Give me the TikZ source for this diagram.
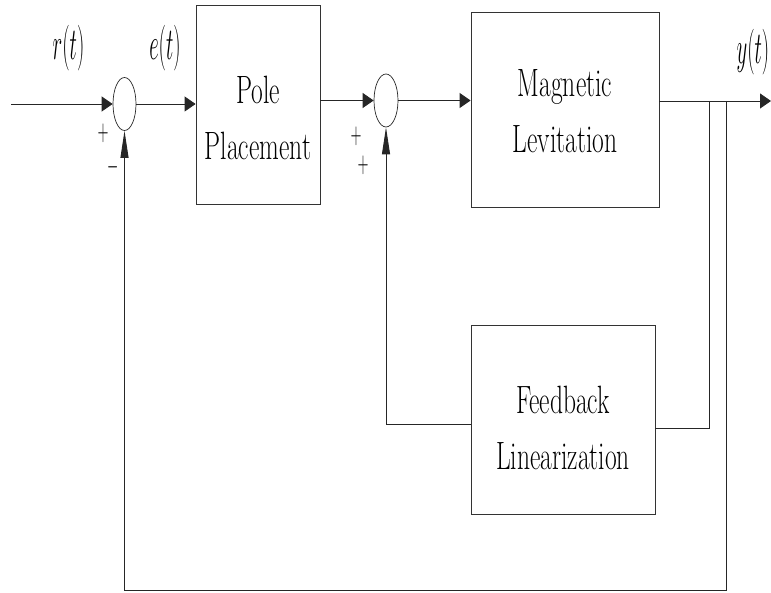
\documentclass[tikz,border=0pt]{standalone}
\usepackage{tikz}
\usetikzlibrary{calc}
\usetikzlibrary{arrows.meta}
\usetikzlibrary{shapes.geometric}

\begin{document}
\begin{tikzpicture}[x=1pt, y=-1pt,
  blk/.style={draw=black!80, line width=.8pt, inner sep=0pt},
  summer/.style={draw=black!85, ellipse, line width=.7pt, inner sep=0pt},
  wire/.style={draw=black!85, line width=.9pt},
  harrow/.style={wire, -{Triangle[length=11pt,width=15pt]}},
  varrow/.style={wire, -{Triangle[length=27pt,width=8pt]}},
  boxtext/.style={font=\fontsize{25.5}{36}\selectfont, align=center, yscale=1.55},
  sig/.style={font=\fontsize{21}{25}\selectfont, yscale=2.2},
  sgn/.style={font=\fontsize{15}{17}\selectfont, yscale=2, inner sep=0pt}]
\useasboundingbox (0,0) rectangle (771,593);

% blocks
\node[blk, minimum width=124pt, minimum height=199pt] (pole) at (258,104.5) {};
\node[blk, minimum width=188pt, minimum height=195pt] (maglev) at (565,109.5) {};
\node[blk, minimum width=184pt, minimum height=189pt] (fbl) at (563,419.5) {};
\node[boxtext] (poletxt) at (258,118) {Pole\\Placement};
\node[boxtext] (magtxt) at (565,111) {Magnetic\\Levitation};
\node[boxtext] (fbltxt) at (563,428) {Feedback\\Linearization};

% summing junctions
\node[summer, minimum width=23pt, minimum height=53pt] (sum1) at (124.5,104) {};
\node[summer, minimum width=24pt, minimum height=53pt] (sum2) at (386,100.5) {};

\coordinate (in) at (11,104);
\coordinate (out) at (771,101);
\coordinate (tapA) at (709,101);
\coordinate (tapB) at (726,101);
\coordinate (low) at (726,590);

% forward path
\draw[harrow] (in) -- (sum1.west);
\draw[harrow] (sum1.east) -- (sum1.east -| pole.west);
\draw[harrow] (sum2.west -| pole.east) -- (sum2.west);
\draw[harrow] (sum2.east) -- (sum2.east -| maglev.west);
\draw[harrow] (out -| maglev.east) -- (out);

% inner loop
\draw[wire] (tapA) |- ($(fbl.east)+(0,8.5)$);
\draw[varrow] ($(fbl.west)+(0,4.5)$) -| (sum2.south);

% outer loop
\draw[varrow] (tapB) -- (low) -| (sum1.south);

% signals and signs
\node[sig] (rlbl) at (68.5,48.5) {$r(t)$};
\node[sig] (elbl) at (165,48.5) {$e(t)$};
\node[sig] (ylbl) at (753,52) {$y(t)$};
\node[sgn] (s1a) at (103,133) {$+$};
\node[sgn] (s1b) at (113,167) {$-$};
\node[sgn] (s2a) at (356,136) {$+$};
\node[sgn] (s2b) at (363,165) {$+$};

\end{tikzpicture}
\end{document}
